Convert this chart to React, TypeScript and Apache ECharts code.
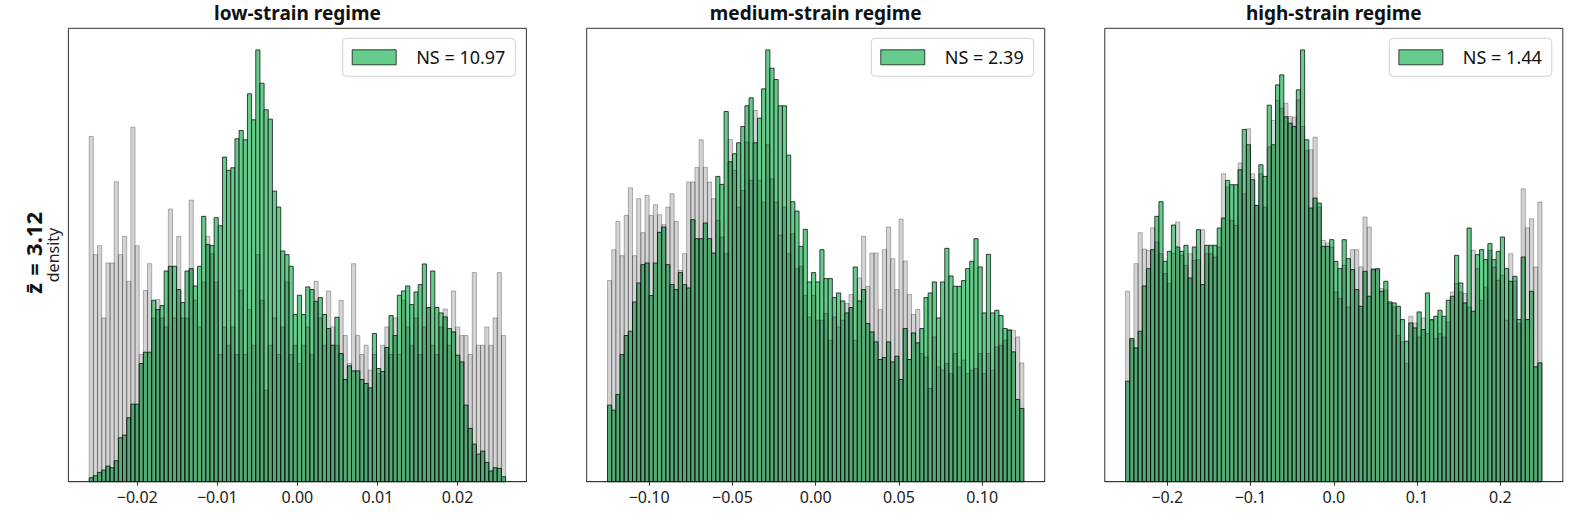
import React, { useEffect, useRef } from "react";
import * as echarts from "echarts";

// ---- data (relative density heights) ----
const panelTitles = ["low-strain regime", "medium-strain regime", "high-strain regime"];
const legendNames = ["NS = 10.97", "NS = 2.39", "NS = 1.44"];
const rowLabel = "z\u0304\u2004=\u20043.12";
const yLabel = "density";

const lowRange = [-0.026, 0.026];
const medRange = [-0.125, 0.125];
const highRange = [-0.25, 0.25];

const lowTicks = [-0.02, -0.01, 0.0, 0.01, 0.02];
const medTicks = [-0.1, -0.05, 0.0, 0.05, 0.1];
const highTicks = [-0.2, -0.1, 0.0, 0.1, 0.2];
const tickDecimals = [2, 2, 1];

const lowGreen = [
  12, 18, 28, 35, 47, 42, 63, 132, 140, 192, 233, 233, 355, 389, 389, 545, 517, 529, 633, 647,
  647, 577, 538, 633, 640, 588, 647, 797, 713, 709, 793, 769, 975, 935, 943, 1030, 1055, 1027, 1165, 1087,
  1297, 1197, 1117, 1089, 873, 825, 693, 682, 647, 502, 560, 502, 585, 577, 542, 553, 502, 460, 410, 494,
  385, 307, 348, 333, 333, 307, 295, 282, 445, 340, 331, 403, 499, 439, 560, 573, 588, 532, 570, 592,
  654, 523, 633, 523, 507, 495, 460, 450, 380, 360, 230, 160, 113, 83, 92, 58, 32, 42, 40, 15,
];
const lowGrey = [
  1037, 682, 709, 492, 657, 657, 901, 682, 737, 602, 1065, 709, 382, 574, 655, 492, 547, 492, 465, 819,
  492, 737, 492, 492, 846, 545, 465, 600, 737, 685, 600, 382, 465, 410, 465, 382, 575, 382, 517, 410,
  682, 545, 275, 410, 492, 382, 465, 600, 382, 410, 355, 410, 465, 382, 602, 492, 410, 573, 465, 410,
  545, 439, 355, 655, 439, 382, 410, 335, 382, 325, 410, 465, 382, 492, 382, 545, 465, 410, 492, 382,
  465, 523, 410, 382, 465, 519, 410, 573, 465, 439, 439, 382, 628, 410, 410, 465, 410, 492, 628, 439,
];

const medGreen = [
  230, 215, 262, 382, 439, 452, 540, 597, 652, 657, 559, 657, 749, 765, 652, 592, 577, 628, 592, 582,
  787, 730, 730, 777, 730, 687, 917, 893, 1112, 961, 985, 1018, 1067, 1129, 1153, 1018, 1092, 1180, 1297, 1242,
  1208, 1129, 1129, 981, 841, 813, 707, 758, 600, 628, 600, 697, 610, 610, 553, 567, 543, 507, 523, 645,
  543, 577, 475, 450, 420, 367, 373, 420, 360, 377, 307, 460, 367, 447, 417, 460, 553, 567, 600, 492,
  600, 701, 618, 587, 587, 604, 640, 662, 730, 645, 507, 683, 507, 515, 499, 460, 455, 390, 247, 220,
];
const medGrey = [
  604, 697, 782, 679, 800, 883, 679, 850, 748, 860, 800, 832, 802, 772, 825, 865, 782, 635, 685, 900,
  900, 944, 1027, 944, 900, 850, 785, 735, 685, 1028, 935, 825, 875, 1020, 905, 1115, 905, 840, 1012, 910,
  840, 740, 825, 685, 745, 640, 647, 560, 495, 560, 485, 485, 505, 425, 495, 465, 485, 535, 562, 425,
  612, 737, 587, 687, 687, 517, 697, 765, 670, 577, 789, 663, 562, 502, 517, 385, 375, 280, 435, 345,
  335, 355, 325, 385, 345, 365, 325, 335, 340, 385, 325, 385, 335, 405, 410, 425, 457, 455, 435, 357,
];

const highGreen = [
  302, 430, 402, 452, 588, 640, 697, 797, 841, 662, 692, 771, 705, 692, 710, 612, 705, 757, 592, 710,
  710, 710, 762, 792, 905, 892, 892, 937, 1058, 1012, 907, 830, 952, 917, 1131, 1012, 1192, 1222, 1096, 1077,
  1067, 1177, 1297, 1027, 822, 852, 837, 707, 707, 727, 662, 640, 727, 670, 637, 577, 527, 632, 557, 637,
  640, 572, 602, 540, 537, 527, 487, 422, 477, 462, 510, 457, 567, 487, 497, 515, 497, 545, 557, 680,
  597, 537, 762, 512, 682, 697, 667, 715, 667, 692, 735, 640, 602, 617, 487, 675, 487, 572, 345, 357,
];
const highGrey = [
  572, 425, 655, 748, 699, 695, 763, 720, 685, 625, 595, 685, 780, 680, 650, 685, 665, 667, 757, 685,
  685, 675, 705, 925, 885, 785, 770, 957, 865, 1060, 925, 830, 925, 825, 1005, 1085, 1145, 1122, 1137, 1097,
  1095, 1147, 1067, 995, 997, 1035, 825, 725, 717, 705, 570, 550, 650, 525, 697, 697, 645, 795, 765, 640,
  637, 580, 575, 535, 525, 440, 420, 355, 497, 477, 435, 492, 445, 485, 430, 445, 435, 480, 570, 595,
  570, 565, 525, 695, 640, 545, 585, 695, 645, 605, 620, 485, 685, 603, 475, 880, 763, 790, 645, 840,
];

// ---- layout / style ----
const W = 1578;
const H = 520;
const GRID_LEFTS = [68.4, 586.7, 1104.8];
const GRID_W = 458;
const GRID_TOP = 28.3;
const GRID_H = 453.4;
const FONT = '"Noto Sans", "Open Sans", sans-serif';
const GREEN = "#66cc8c";
const GREEN_EDGE = "rgba(0,0,0,0.72)";
const GREY_FILL = "rgba(0,0,0,0.17)";
const GREY_EDGE = "rgba(0,0,0,0.28)";

function histItems(values: number[], range: number[]) {
  const w = (range[1] - range[0]) / values.length;
  return values.map((v, i) => [range[0] + i * w, range[0] + (i + 1) * w, v]);
}

function makeRender(fill: string, stroke: string) {
  return (params: any, api: any) => {
    const a = api.coord([api.value(0), api.value(2)]);
    const b = api.coord([api.value(1), 0]);
    return {
      type: "rect",
      shape: { x: a[0], y: a[1], width: b[0] - a[0], height: b[1] - a[1] },
      style: { fill, stroke, lineWidth: 1 },
    };
  };
}

function fmt(dec: number) {
  return (v: number) => {
    const s = Math.abs(v).toFixed(dec);
    return v < -1e-12 ? "\u2212" + s : s;
  };
}

export default function App() {
  const ref = useRef<HTMLDivElement>(null);
  useEffect(() => {
    if (!ref.current) return;
    const chart = echarts.init(ref.current, null, { renderer: "svg" });
    const panels = [
      { green: lowGreen, grey: lowGrey, range: lowRange, ticks: lowTicks },
      { green: medGreen, grey: medGrey, range: medRange, ticks: medTicks },
      { green: highGreen, grey: highGrey, range: highRange, ticks: highTicks },
    ];
    const grid: any[] = [];
    const xAxis: any[] = [];
    const yAxis: any[] = [];
    const series: any[] = [];
    const title: any[] = [];
    const legend: any[] = [];
    panels.forEach((p, k) => {
      const span = p.range[1] - p.range[0];
      const ymax = 1.05 * Math.max(...p.green, ...p.grey);
      grid.push({
        left: GRID_LEFTS[k],
        top: GRID_TOP,
        width: GRID_W,
        height: GRID_H,
        show: true,
        borderColor: "#333",
        borderWidth: 1,
        backgroundColor: "transparent",
      });
      xAxis.push({
        type: "value",
        gridIndex: k,
        min: p.range[0] - 0.05 * span,
        max: p.range[1] + 0.05 * span,
        axisLine: { show: true, lineStyle: { color: "#333", width: 1 } },
        axisTick: { show: true, length: 4, inside: false, customValues: p.ticks, lineStyle: { color: "#333" } },
        axisLabel: {
          customValues: p.ticks,
          formatter: fmt(tickDecimals[k]),
          color: "#222",
          fontFamily: FONT,
          fontSize: 16,
          margin: 7,
        },
        splitLine: { show: false },
      });
      yAxis.push({
        type: "value",
        gridIndex: k,
        min: 0,
        max: ymax,
        axisLine: { show: false },
        axisTick: { show: false },
        axisLabel: { show: false },
        splitLine: { show: false },
      });
      series.push({
        type: "custom",
        name: legendNames[k],
        xAxisIndex: k,
        yAxisIndex: k,
        encode: { x: [0, 1], y: 2 },
        data: histItems(p.green, p.range),
        renderItem: makeRender(GREEN, GREEN_EDGE),
        itemStyle: { color: GREEN, borderColor: GREEN_EDGE, borderWidth: 1 },
        z: 2,
      });
      series.push({
        type: "custom",
        name: "null " + k,
        xAxisIndex: k,
        yAxisIndex: k,
        encode: { x: [0, 1], y: 2 },
        data: histItems(p.grey, p.range),
        renderItem: makeRender(GREY_FILL, GREY_EDGE),
        itemStyle: { color: "#ccc" },
        z: 3,
      });
      title.push({
        text: panelTitles[k],
        left: GRID_LEFTS[k] + GRID_W / 2,
        textAlign: "center",
        top: 2,
        padding: 0,
        textStyle: { fontFamily: FONT, fontWeight: "bold", fontSize: 19, color: "#111", lineHeight: 22 },
      });
      legend.push({
        data: [{ name: legendNames[k], icon: "rect" }],
        right: W - (GRID_LEFTS[k] + GRID_W - 11),
        top: 38.3,
        orient: "horizontal",
        itemWidth: 44,
        itemHeight: 15,
        backgroundColor: "#fff",
        borderColor: "#d0d0d0",
        borderWidth: 1,
        borderRadius: 4,
        padding: [8, 10, 8, 9],
        selectedMode: false,
        itemStyle: { color: GREEN, borderColor: "rgba(0,0,0,0.72)", borderWidth: 1 },
        textStyle: { fontFamily: FONT, fontSize: 18, color: "#111", padding: [0, 0, 0, 15], lineHeight: 22 },
      });
    });
    chart.setOption({
      animation: false,
      backgroundColor: "#fff",
      title,
      legend,
      grid,
      xAxis,
      yAxis,
      series,
      graphic: [
        {
          type: "text",
          x: 33,
          y: 253,
          rotation: Math.PI / 2,
          style: {
            text: rowLabel,
            fontFamily: FONT,
            fontWeight: "bold",
            fontSize: 22,
            fill: "#111",
            textAlign: "center",
            textVerticalAlign: "middle",
            align: "center",
            verticalAlign: "middle",
          },
        },
        {
          type: "text",
          x: 53,
          y: 255,
          rotation: Math.PI / 2,
          style: {
            text: yLabel,
            fontFamily: FONT,
            fontSize: 16,
            fill: "#222",
            textAlign: "center",
            textVerticalAlign: "middle",
            align: "center",
            verticalAlign: "middle",
          },
        },
      ],
    });
    return () => chart.dispose();
  }, []);
  return (
    <div
      ref={ref}
      style={{ position: "fixed", left: 0, top: 0, width: W + "px", height: H + "px", background: "#fff" }}
    />
  );
}
